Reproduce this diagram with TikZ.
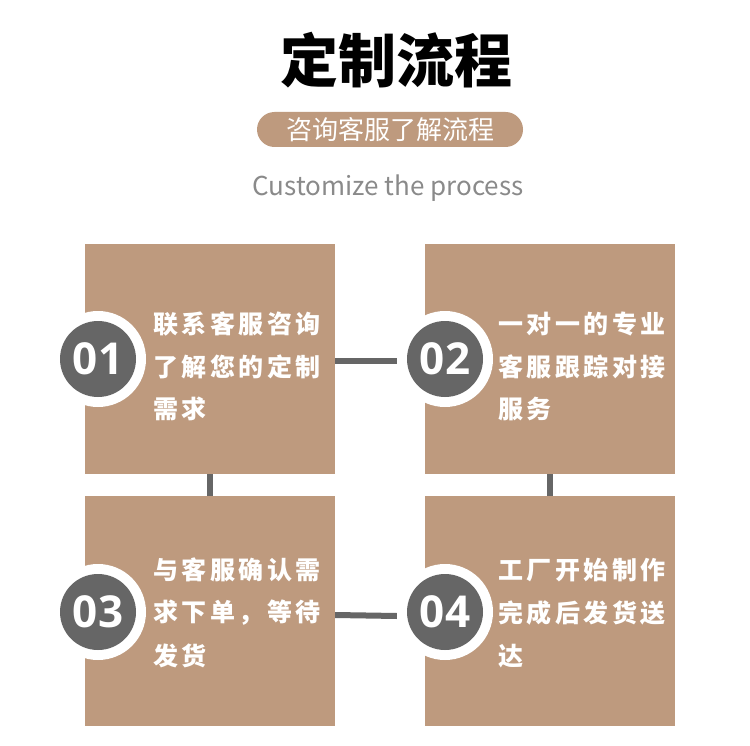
\documentclass[tikz,border=0pt]{standalone}
\usepackage{fontspec}
\newfontfamily\cjk{Noto Sans CJK SC}
\newfontfamily\numfont{Open Sans}
\definecolor{tan}{HTML}{BE9A7E}
\definecolor{dgray}{HTML}{666666}
\definecolor{lgray}{HTML}{8A8A8A}
\makeatletter
\newcommand\spreadtext[1]{\@tfor\myc:=#1\do{\makebox[28.5pt][l]{\myc}}}
\makeatother
\tikzset{
  box/.style={fill=tan, minimum width=250pt, minimum height=230pt, inner sep=0, draw=none},
  ring/.style={circle, fill=white, minimum size=96pt, inner sep=0},
  badge/.style={circle, fill=dgray, minimum size=76pt, inner sep=0, text=white, font=\numfont\bfseries\fontsize{44}{44}\selectfont},
  line/.style={anchor=west, inner sep=0, text=white, font=\cjk\bfseries\fontsize{25}{25}\selectfont},
  conn/.style={draw=dgray, line width=6pt}
}
\begin{document}
\begin{tikzpicture}[x=1pt,y=-1pt]
\useasboundingbox (0,0) rectangle (750,746);
\fill[white] (0,0) rectangle (750,746);
% title
\node[font=\cjk\bfseries\fontsize{58}{58}\selectfont, inner sep=0] (title) at (396,60) {定制流程};
\node[fill=tan, rounded corners=17.5pt, minimum width=266pt, minimum height=35pt, inner sep=0, text=white, font=\cjk\fontsize{26}{26}\selectfont] (pill) at (390,129.5) {咨询客服了解流程};
\node[text=lgray, font=\cjk\fontsize{26}{26}\selectfont, inner sep=0] (sub) at (388,188) {Customize the process};
% boxes
\node[box] (b1) at (210,359) {};
\node[box] (b2) at (550,359) {};
\node[box] (b3) at (210,611) {};
\node[box] (b4) at (550,611) {};
% rings
\node[ring] (r1) at (98,359) {};
\node[ring] (r2) at (445,359) {};
\node[ring] (r3) at (98,612) {};
\node[ring] (r4) at (445,612) {};
% connectors
\draw[conn] ([yshift=-2pt]b1.east) -- ([yshift=-2pt]r2.west);
\draw[conn] ([yshift=-4pt]b3.east) -- ([yshift=-4pt]r4.west);
\draw[conn] (b1.south) -- (b3.north);
\draw[conn] (b2.south) -- (b4.north);
% badges
\node[badge] (c1) at (r1) {01};
\node[badge] (c2) at (r2) {02};
\node[badge] (c3) at (r3) {03};
\node[badge] (c4) at (r4) {04};
% texts
\node[line] (t11) at (153,324) {\spreadtext{联系客服咨询}};
\node[line] (t12) at (153,367) {\spreadtext{了解您的定制}};
\node[line] (t13) at (153,409) {\spreadtext{需求}};
\node[line] (t21) at (498,324) {\spreadtext{一对一的专业}};
\node[line] (t22) at (498,367) {\spreadtext{客服跟踪对接}};
\node[line] (t23) at (498,409) {\spreadtext{服务}};
\node[line] (t31) at (153,570) {\spreadtext{与客服确认需}};
\node[line] (t32) at (153,613) {\spreadtext{求下单，等待}};
\node[line] (t33) at (153,656) {\spreadtext{发货}};
\node[line] (t41) at (498,570) {\spreadtext{工厂开始制作}};
\node[line] (t42) at (498,613) {\spreadtext{完成后发货送}};
\node[line] (t43) at (498,656) {\spreadtext{达}};
\end{tikzpicture}
\end{document}
